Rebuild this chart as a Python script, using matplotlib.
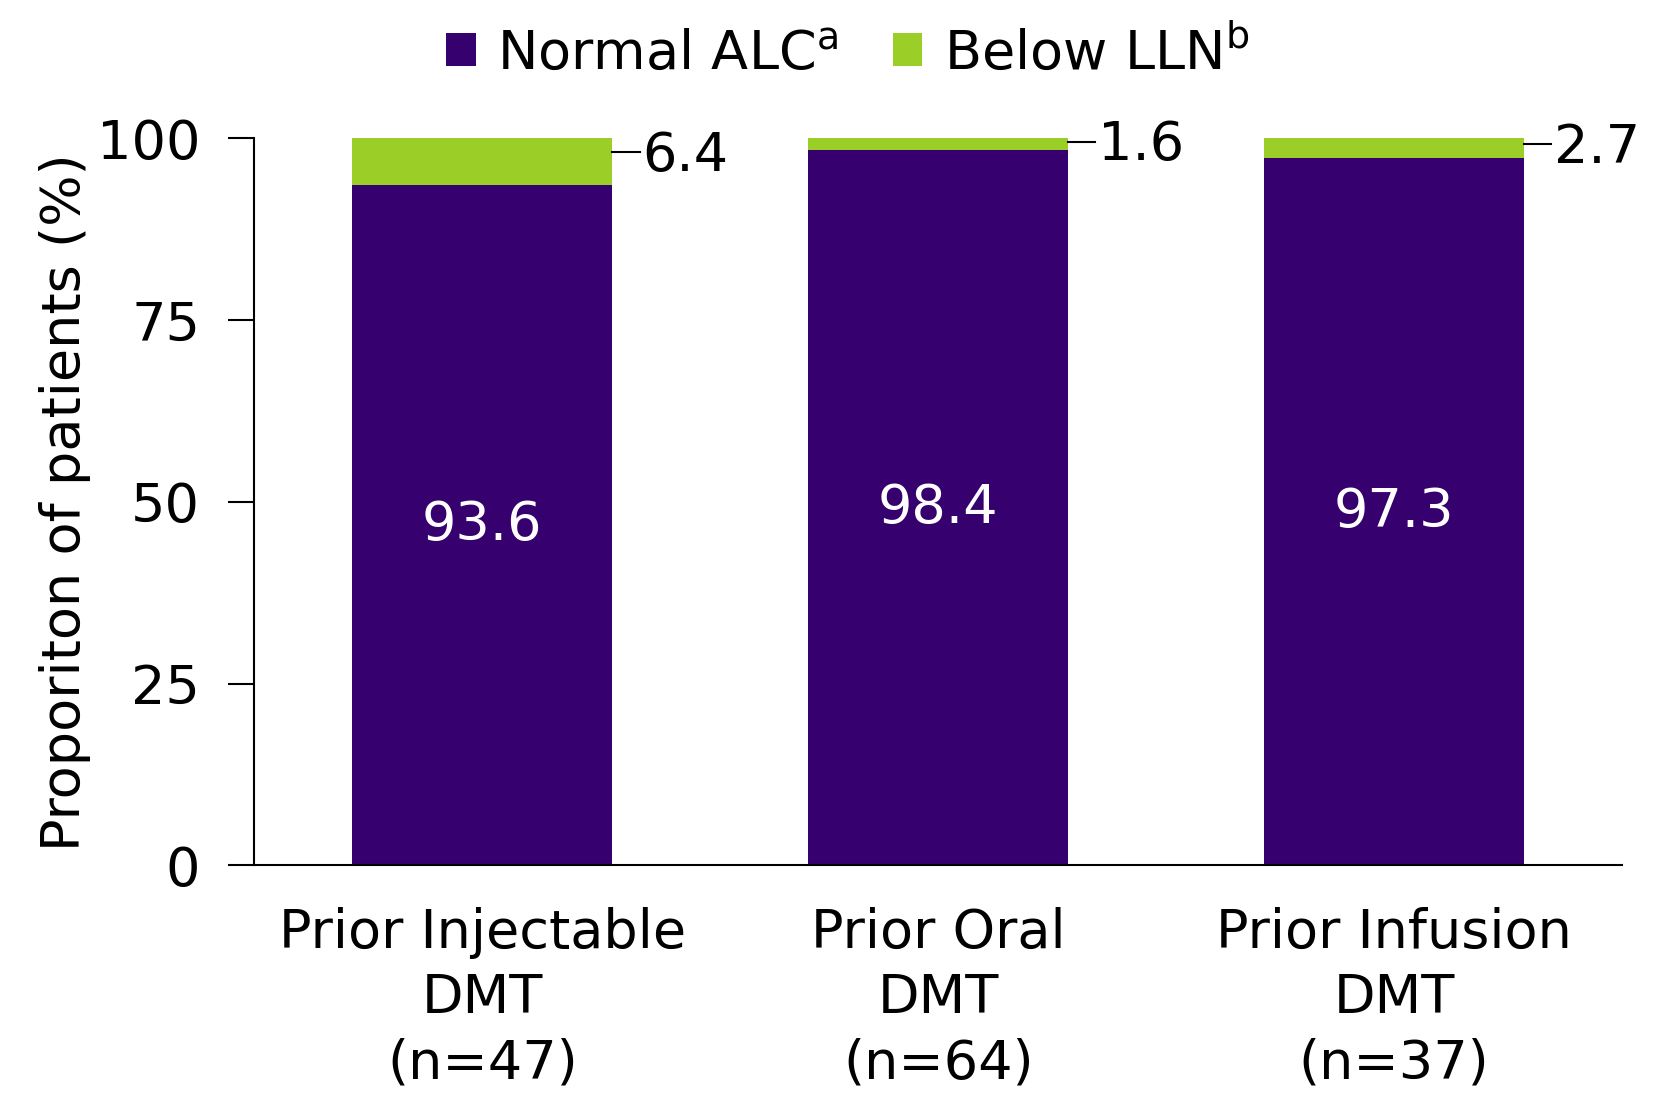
import matplotlib.pyplot as plt
import numpy as np

groups = ["Prior Injectable\nDMT\n(n=47)", "Prior Oral\nDMT\n(n=64)", "Prior Infusion\nDMT\n(n=37)"]
normal_alc = [93.6, 98.4, 97.3]
below_lln = [6.4, 1.6, 2.7]
yticks = [0, 25, 50, 75, 100]

purple = "#36006e"
green = "#9bcf27"
fs = 39

plt.rcParams['font.family'] = ['DejaVu Sans']
fig = plt.figure(figsize=(16.62, 10.98), dpi=100)
ax = fig.add_axes([0.153, 0.212, 0.823, 0.662])

x = np.arange(len(groups))
w = 0.57
ax.bar(x, normal_alc, w, color=purple, label="Normal ALC$^{\\mathregular{a}}$")
ax.bar(x, below_lln, w, bottom=normal_alc, color=green, label="Below LLN$^{\\mathregular{b}}$")

for i in range(len(groups)):
    ax.text(x[i], normal_alc[i] / 2, f"{normal_alc[i]:.1f}", color="white",
            ha="center", va="center", fontsize=fs)
    ly = 100 - 0.3 * below_lln[i]
    ax.plot([x[i] + w / 2, x[i] + w / 2 + 0.06], [ly, ly], color="black", lw=1.5,
            clip_on=False)
    ax.text(x[i] + w / 2 + 0.065, ly - 0.5, f"{below_lln[i]:.1f}", ha="left", va="center",
            fontsize=fs)

ax.set_xlim(-0.5, 2.5)
ax.set_ylim(0, 100)
ax.set_yticks(yticks)
ax.set_xticks(x)
ax.set_xticklabels(groups, fontsize=fs, linespacing=1.32)
ax.tick_params(axis='x', length=0, pad=30)
ax.tick_params(axis='y', labelsize=fs, length=19, width=1.5, pad=20)
ax.set_ylabel("Proporiton of patients (%)", fontsize=fs, labelpad=4)
for s in ["top", "right"]:
    ax.spines[s].set_visible(False)
for s in ["left", "bottom"]:
    ax.spines[s].set_linewidth(1.5)

fig.legend(loc="upper center", bbox_to_anchor=(0.51, 1.02), ncol=2, frameon=False,
           fontsize=fs, handlelength=0.55, handleheight=0.55, columnspacing=1.0,
           handletextpad=0.4)

fig.savefig("out.png", dpi=100)
